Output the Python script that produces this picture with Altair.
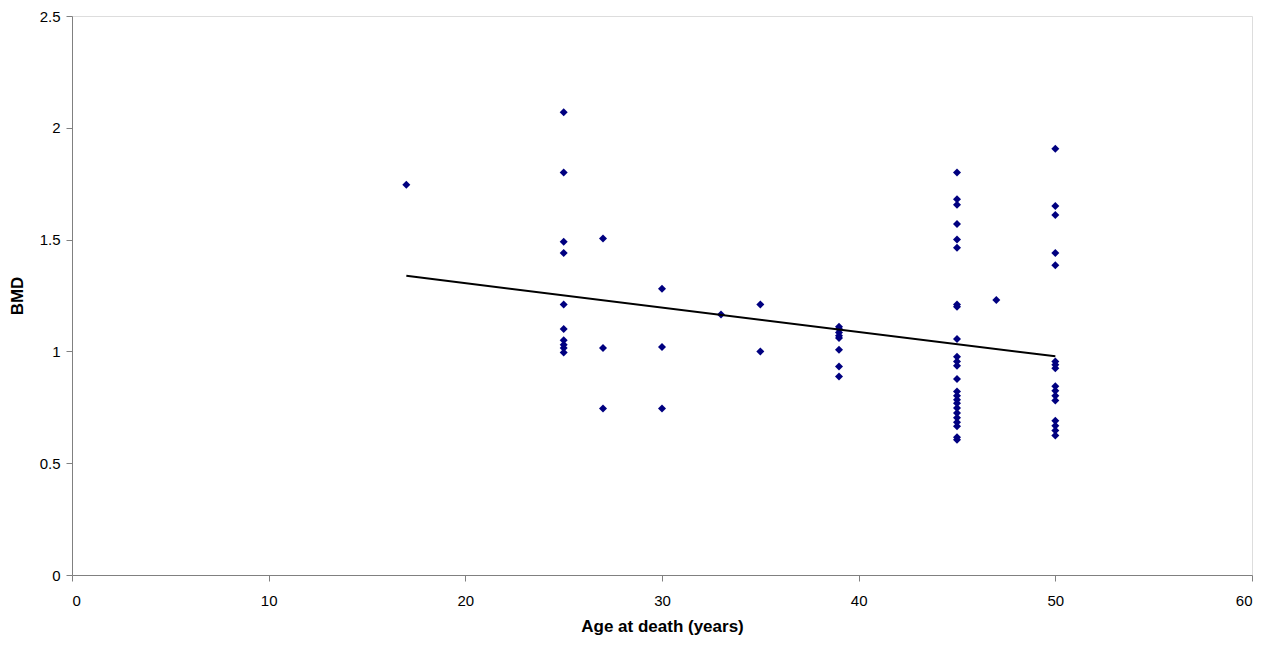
import altair as alt
import pandas as pd

age = (
    [17]
    + [25] * 10
    + [27] * 3
    + [30] * 3
    + [33]
    + [35] * 2
    + [39] * 8
    + [45] * 24
    + [47]
    + [50] * 16
)
bmd = (
    [1.745]
    + [2.07, 1.80, 1.49, 1.44, 1.21, 1.10, 1.05, 1.03, 1.015, 0.995]
    + [1.505, 1.015, 0.745]
    + [1.28, 1.02, 0.745]
    + [1.165]
    + [1.21, 1.0]
    + [1.11, 1.10, 1.085, 1.07, 1.06, 1.007, 0.933, 0.888]
    + [1.80, 1.68, 1.656, 1.57, 1.50, 1.463, 1.21, 1.20,
       1.055, 0.976, 0.955, 0.936, 0.877, 0.821, 0.802, 0.784,
       0.768, 0.747, 0.725, 0.703, 0.683, 0.665, 0.616, 0.605]
    + [1.23]
    + [1.906, 1.65, 1.61, 1.44, 1.385, 0.955, 0.94, 0.925,
       0.844, 0.824, 0.802, 0.78, 0.69, 0.668, 0.646, 0.624]
)

trend_age = [17, 50]
trend_bmd = [1.338, 0.978]

x_ticks = [0, 10, 20, 30, 40, 50, 60]
y_ticks = [0, 0.5, 1, 1.5, 2, 2.5]

points = pd.DataFrame({"age": age, "bmd": bmd})
trend = pd.DataFrame({"age": trend_age, "bmd": trend_bmd})

FONT = "Liberation Sans"

common = dict(
    grid=False,
    tickSize=6,
    labelFont=FONT,
    titleFont=FONT,
    labelFontSize=15,
    titleFontSize=17,
    titleFontWeight="bold",
    domainColor="#808080",
    tickColor="#808080",
    labelColor="#000000",
    titleColor="#000000",
    format="~g",
)

x_axis = alt.Axis(
    values=x_ticks,
    title="Age at death (years)",
    labelPadding=12,
    titlePadding=10,
    **common,
)
y_axis = alt.Axis(
    values=y_ticks,
    title="BMD",
    labelPadding=6,
    titlePadding=13,
    **common,
)

xs = alt.Scale(domain=[0, 60], nice=False, zero=False)
ys = alt.Scale(domain=[0, 2.5], nice=False, zero=False)

pts = alt.Chart(points).mark_point(
    shape="diamond", filled=True, color="#000080", size=64, opacity=1
).encode(
    x=alt.X("age:Q", scale=xs, axis=x_axis),
    y=alt.Y("bmd:Q", scale=ys, axis=y_axis),
)

line = alt.Chart(trend).mark_line(color="#000000", strokeWidth=2).encode(
    x=alt.X("age:Q", scale=xs),
    y=alt.Y("bmd:Q", scale=ys),
)

chart = (
    alt.layer(pts, line)
    .properties(
        width=1180,
        height=559,
        autosize=alt.AutoSizeParams(type="none"),
        padding={"left": 64, "top": 8, "right": 10, "bottom": 60},
    )
    .configure_view(stroke=None)
    .configure(background="#ffffff")
)

chart.save("out.html", embed_options={"renderer": "svg", "actions": False})
